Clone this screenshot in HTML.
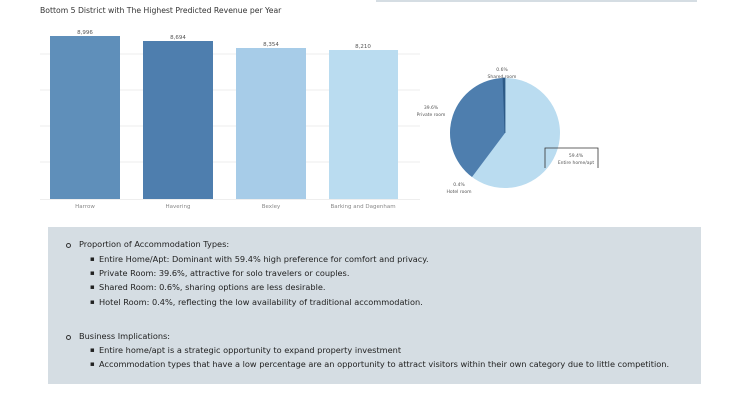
<!DOCTYPE html>
<html><head><style>
body{margin:0;width:749px;height:414px;background:#fff;position:relative;overflow:hidden;font-family:"DejaVu Sans",sans-serif;}
.t{position:absolute;white-space:nowrap;}
.box{position:absolute;left:48px;top:227px;width:653px;height:157px;background:#d5dde3;}
.l{position:absolute;font-size:8.2px;color:#222;white-space:nowrap;}
.b{position:absolute;font-size:7px;color:#222;}
.c{position:absolute;width:3px;height:3px;border:1px solid #333;border-radius:50%;}
</style></head><body>
<div style="position:absolute;left:376px;top:0;width:321px;height:2px;background:#d5dde3"></div>
<div class="t" style="left:40px;top:6px;font-size:7.7px;color:#333">Bottom 5 District with The Highest Predicted Revenue per Year</div>
<svg width="749" height="220" style="position:absolute;left:0;top:0">
<g stroke="#eee" stroke-width="1">
<line x1="40" y1="54" x2="420" y2="54"/><line x1="40" y1="90" x2="420" y2="90"/>
<line x1="40" y1="126" x2="420" y2="126"/><line x1="40" y1="162" x2="420" y2="162"/>
<line x1="40" y1="199.5" x2="420" y2="199.5"/></g>
<rect x="50" y="36" width="70" height="163" fill="#5f8fba"/>
<rect x="143" y="41" width="70" height="158" fill="#4e7eae"/>
<rect x="236" y="48" width="70" height="151" fill="#a7cce8"/>
<rect x="329" y="50" width="69" height="149" fill="#badcf0"/>
<g font-size="5.5" fill="#555" text-anchor="middle">
<text x="85" y="34">8,996</text><text x="178" y="39">8,694</text><text x="271" y="46">8,354</text><text x="363" y="48">8,210</text>
<text x="85" y="208" fill="#888">Harrow</text><text x="178" y="208" fill="#888">Havering</text><text x="271" y="208" fill="#888">Bexley</text><text x="363" y="208" fill="#888">Barking and Dagenham</text>
</g>
<circle cx="505" cy="133" r="55" fill="#badcf0"/>
<path d="M505,133 L472,177 A55,55 0 0 1 505,78 Z" fill="#4e7eae"/>
<path d="M505,133 L503,78 A55,55 0 0 1 505,78 Z" fill="#2d5a87" stroke="#2d5a87" stroke-width="0.8"/>
<g font-size="4.5" fill="#555" text-anchor="middle">
<text x="502" y="71">0.6%</text><text x="502" y="78">Shared room</text>
<text x="431" y="109">39.6%</text><text x="431" y="116">Private room</text>
<text x="459" y="186">0.4%</text><text x="459" y="193">Hotel room</text>
<text x="576" y="157">59.4%</text><text x="576" y="164">Entire home/apt</text>
</g>
<polyline points="545,168 545,148 598,148 598,168" fill="none" stroke="#333" stroke-width="0.8"/>
</svg>
<div class="box"></div>
<div class="c" style="left:66px;top:243px"></div><div class="l" style="left:79px;top:239px">Proportion of Accommodation Types:</div>
<div class="b" style="left:90px;top:255px">▪</div><div class="l" style="left:99px;top:254px">Entire Home/Apt: Dominant with 59.4% high preference for comfort and privacy.</div>
<div class="b" style="left:90px;top:269px">▪</div><div class="l" style="left:99px;top:268px">Private Room: 39.6%, attractive for solo travelers or couples.</div>
<div class="b" style="left:90px;top:283px">▪</div><div class="l" style="left:99px;top:282px">Shared Room: 0.6%, sharing options are less desirable.</div>
<div class="b" style="left:90px;top:298px">▪</div><div class="l" style="left:99px;top:297px">Hotel Room: 0.4%, reflecting the low availability of traditional accommodation.</div>
<div class="c" style="left:66px;top:335px"></div><div class="l" style="left:79px;top:331px">Business Implications:</div>
<div class="b" style="left:90px;top:346px">▪</div><div class="l" style="left:99px;top:345px">Entire home/apt is a strategic opportunity to expand property investment</div>
<div class="b" style="left:90px;top:360px">▪</div><div class="l" style="left:99px;top:359px">Accommodation types that have a low percentage are an opportunity to attract visitors within their own category due to little competition.</div>
</body></html>
